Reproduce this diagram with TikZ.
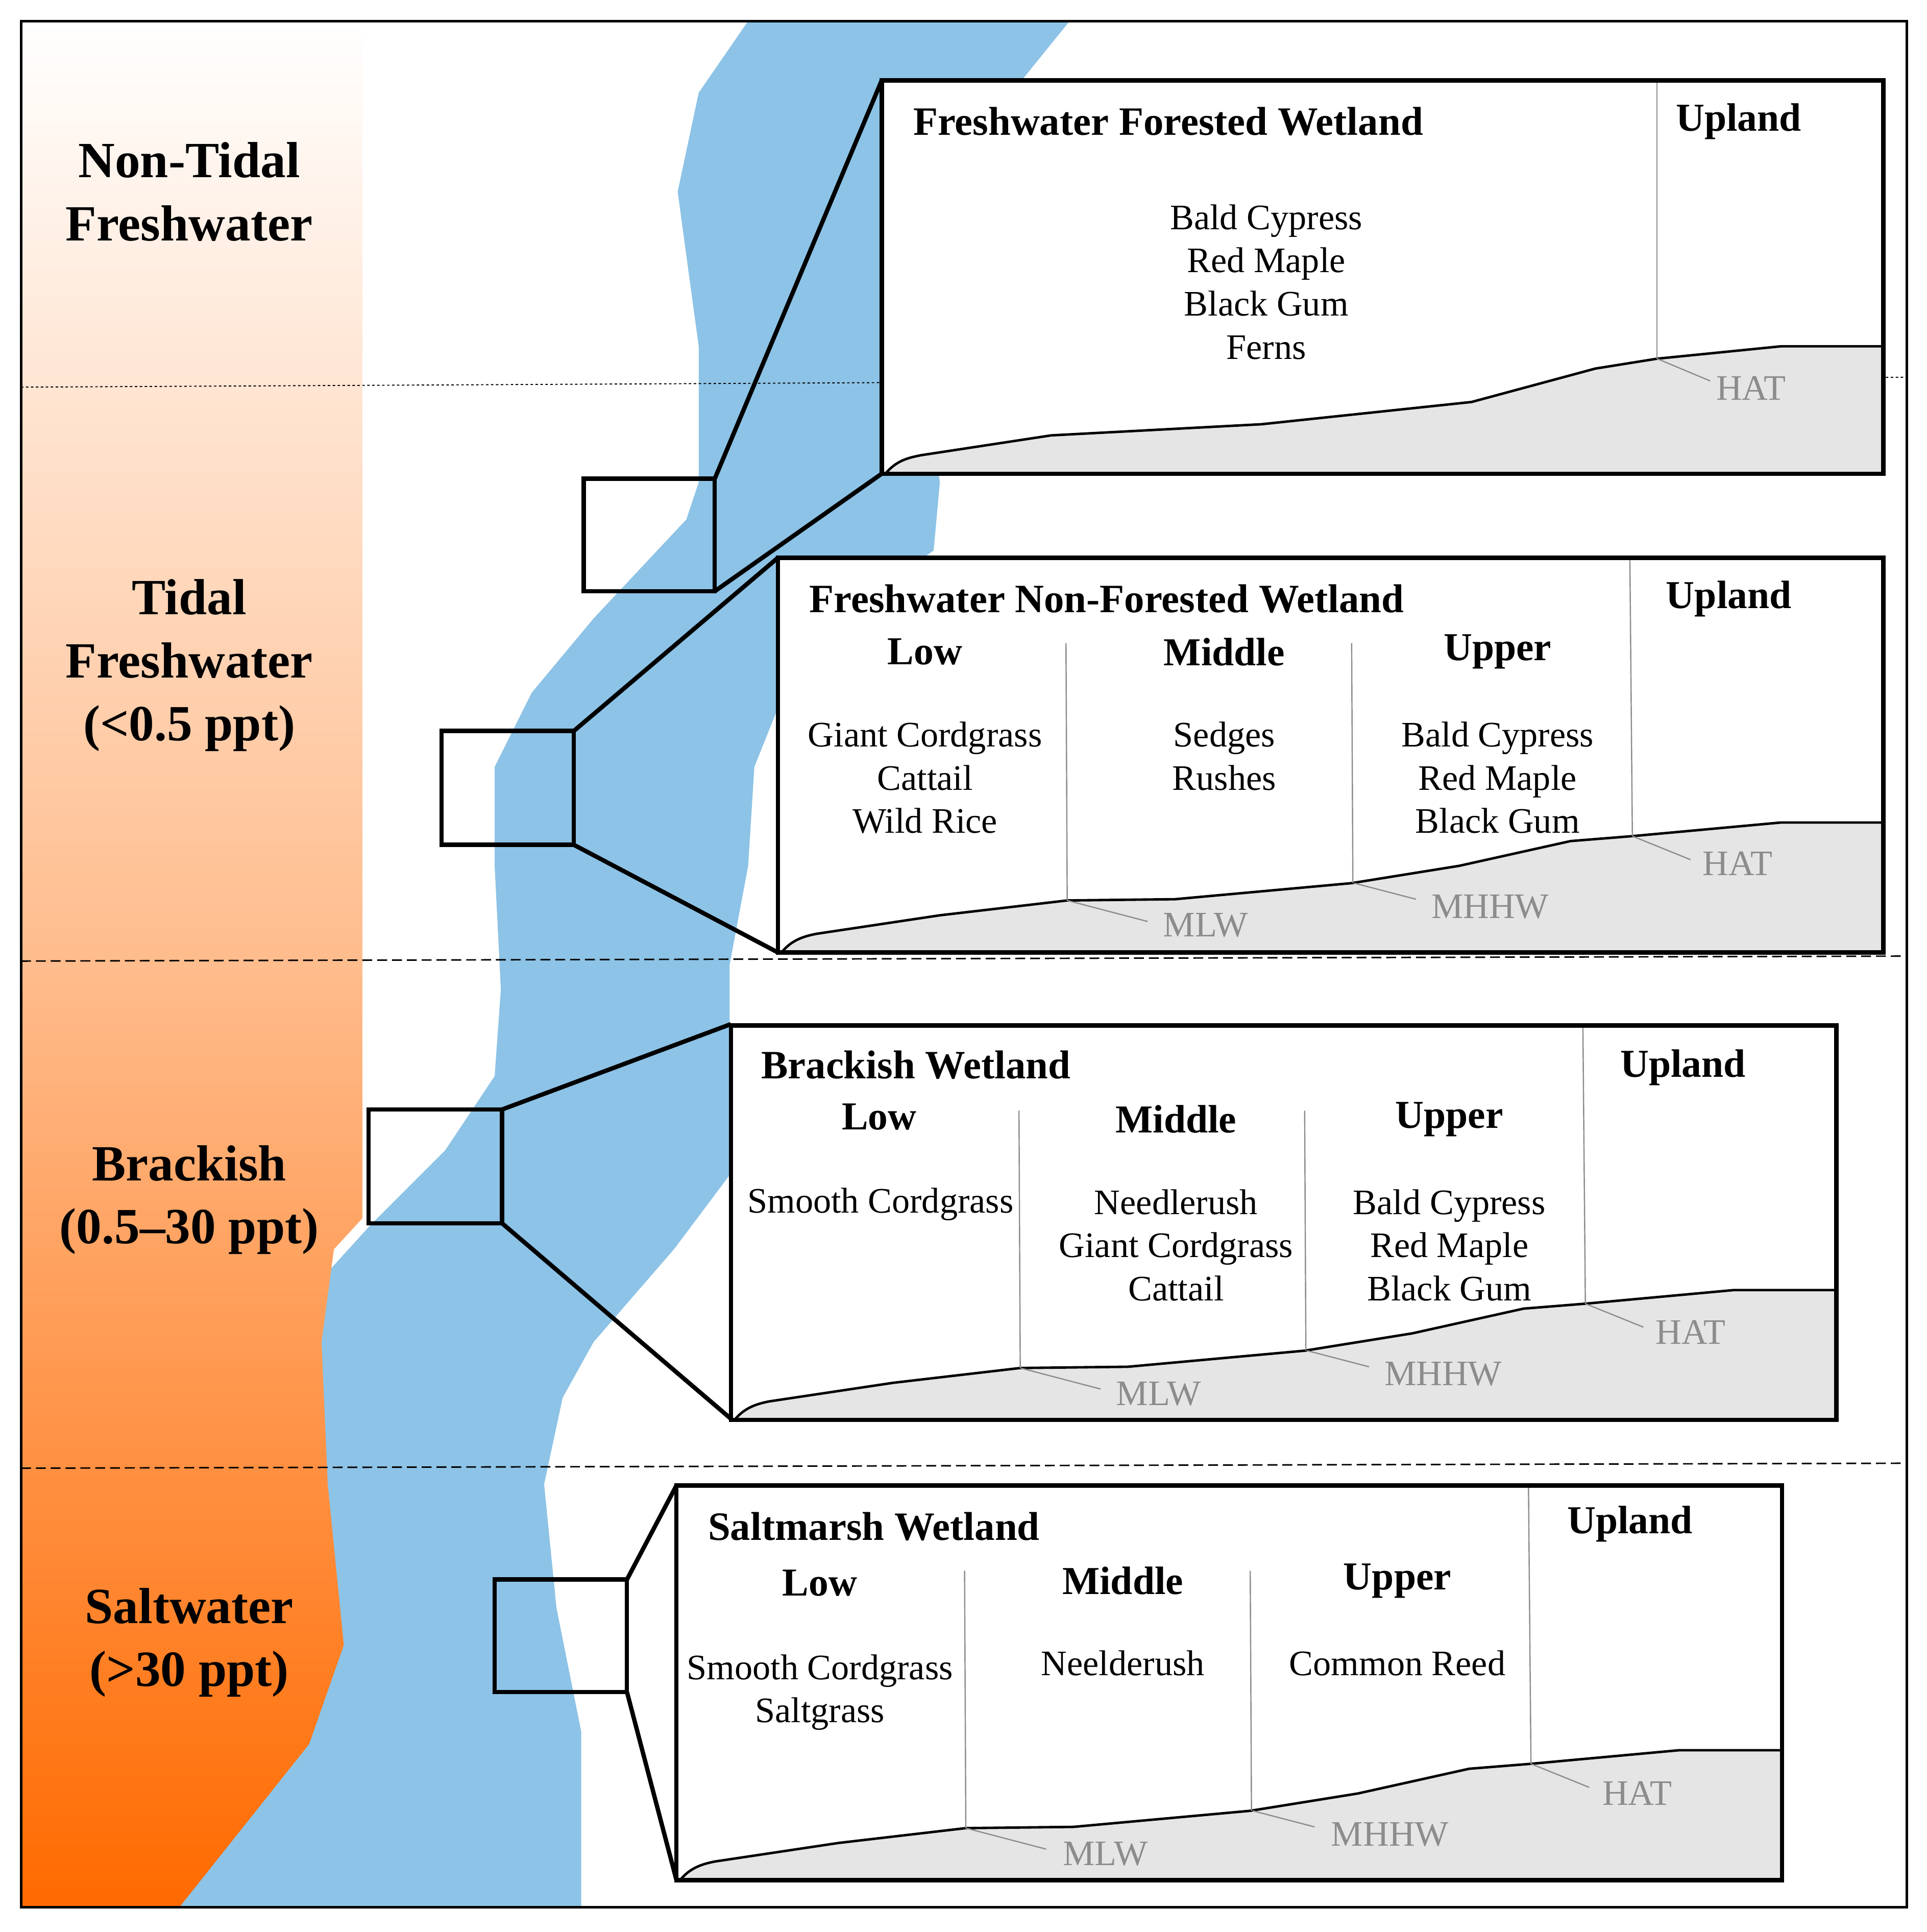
\documentclass[tikz,border=0pt]{standalone}
\usepackage{fontspec}
\setmainfont{Liberation Serif}
\begin{document}
\begin{tikzpicture}[x=1pt,y=-1pt,
  big/.style={font=\fontsize{41}{51}\selectfont\bfseries,align=center},
  ttl/.style={font=\fontsize{32.5}{35}\selectfont\bfseries,anchor=west},
  hd/.style={font=\fontsize{32}{35}\selectfont\bfseries},
  sp/.style={font=\fontsize{29}{35}\selectfont,align=center},
  gl/.style={font=\fontsize{29}{30}\selectfont,text=black!45},
  frame/.style={draw=black,line width=3.5pt},
  zone/.style={draw=black!45,line width=1pt},
  ground/.style={fill=black!10,draw=black,line width=2pt}]
\definecolor{river}{HTML}{8DC3E6}
\definecolor{org}{HTML}{FF6A00}
\useasboundingbox (0,0) rectangle (1558,1562);
% river
\fill[river] (605,17)--(565,75)--(548,155)--(565,280)--(565,390)--(555,420)--(480,500)--(430,560)--(400,620)--(400,700)--(405,800)--(400,870)--(360,930)--(300,990)--(200,1100)--(100,1542)--(470,1542)--(470,1400)--(450,1300)--(440,1200)--(455,1130)--(480,1085)--(545,1010)--(590,950)--(590,780)--(605,700)--(610,620)--(650,520)--(755,445)--(760,390)--(745,280)--(750,190)--(810,85)--(865,17)--cycle;
% salinity strip
\shade[top color=white,bottom color=org,middle color=org!45] (17,17)--(293,17)--(293,985)--(270,1010)--(260,1085)--(265,1200)--(278,1330)--(250,1410)--(145,1542)--(17,1542)--cycle;
% dashed
\draw[dash pattern=on 2pt off 2pt,line width=0.8pt] (17,313)--(1542,305);
\draw[dash pattern=on 8pt off 4pt,line width=1.2pt] (17,777)--(1542,773);
\draw[dash pattern=on 8pt off 4pt,line width=1.2pt] (17,1187)--(1542,1183);
% left labels
\node[big] (nt) at (153,155) {Non-Tidal\\Freshwater};
\node[big] (tf) at (153,538) {Tidal\\Freshwater\\(<0.5 ppt)};
\node[big] (br) at (153,970) {Brackish\\(0.5–30 ppt)};
\node[big] (sw) at (153,1328) {Saltwater\\(>30 ppt)};
% corner coordinates
\coordinate (s1a) at (578,387); \coordinate (s1b) at (578,478);
\coordinate (b1a) at (713,65); \coordinate (b1b) at (713,383);
\coordinate (s2a) at (464,591); \coordinate (s2b) at (464,683);
\coordinate (b2a) at (629,451); \coordinate (b2b) at (629,770);
\coordinate (s3a) at (406,897); \coordinate (s3b) at (406,989);
\coordinate (b3a) at (591,828); \coordinate (b3b) at (591,1147);
\coordinate (s4a) at (507,1277); \coordinate (s4b) at (507,1368);
\coordinate (b4a) at (547,1201); \coordinate (b4b) at (547,1520);
% box 1
\fill[white] (713,65) rectangle (1523,383);
\path[ground] (716,383)..controls (725,372) and (735,370)..(745,368)--(850,352)--(1020,343)--(1190,325)--(1290,298)--(1340,290)--(1440,280)--(1523,280)--(1523,383)--cycle;
\draw[zone] (1340,65)--(1340,290);
\draw[zone] (1340,290)--(1383,308);
\node[gl] (hat1) at (1416,314) {HAT};
\node[ttl] (t1) at (735,98) {Freshwater Forested Wetland};
\node[hd] (u1) at (1406,98) {Upland};
\node[sp] (sp1) at (1024,228) {Bald Cypress\\Red Maple\\Black Gum\\Ferns};
\draw[frame] (713,65) rectangle (1523,383);
% generic box 2 ground
\newcommand{\wetbox}{%
\fill[white] (629,451) rectangle (1523,770);
\path[ground] (632,770)..controls (640,760) and (650,757)..(660,755)--(760,740)--(863,728)--(950,727)--(1093,714)--(1180,700)--(1270,680)--(1320,676)--(1440,665)--(1523,665)--(1523,770)--cycle;
\draw[zone] (862,520)--(863,728) (1093,520)--(1094,714) (1318,451)--(1320,676);
\draw[zone] (863,728)--(928,745) (1095,714)--(1145,727) (1320,676)--(1367,695);}
\wetbox
\node[gl] at (975,748) {MLW}; \node[gl] at (1205,733) {MHHW}; \node[gl] at (1405,698) {HAT};
\node[ttl] at (651,484) {Freshwater Non-Forested Wetland};
\node[hd] at (1398,484) {Upland};
\node[hd] at (748,527) {Low}; \node[hd] at (990,527) {Middle}; \node[hd] at (1211,527) {Upper};
\node[sp,anchor=north] at (748,580) {Giant Cordgrass\\Cattail\\Wild Rice};
\node[sp,anchor=north] at (990,580) {Sedges\\Rushes};
\node[sp,anchor=north] at (1211,580) {Bald Cypress\\Red Maple\\Black Gum};
\draw[frame] (629,451) rectangle (1523,770);
% box 3
\begin{scope}[shift={(-38,378)}]\wetbox\draw[frame] (629,451) rectangle (1523,770);\end{scope}
\node[gl] at (937,1127) {MLW}; \node[gl] at (1167,1111) {MHHW}; \node[gl] at (1367,1077) {HAT};
\node[ttl] at (612,861) {Brackish Wetland};
\node[hd] at (1361,863) {Upland};
\node[hd] at (711,903) {Low}; \node[hd] at (951,905) {Middle}; \node[hd] at (1172,905) {Upper};
\node[sp,anchor=north] at (712,957) {Smooth Cordgrass};
\node[sp,anchor=north] at (951,958) {Needlerush\\Giant Cordgrass\\Cattail};
\node[sp,anchor=north] at (1172,958) {Bald Cypress\\Red Maple\\Black Gum};
% box 4
\begin{scope}[shift={(-82,750)}]\wetbox\draw[frame] (629,451) rectangle (1523,770);\end{scope}
\node[gl] at (894,1499) {MLW}; \node[gl] at (1124,1483) {MHHW}; \node[gl] at (1324,1450) {HAT};
\node[ttl] at (569,1234) {Saltmarsh Wetland};
\node[hd] at (1318,1232) {Upland};
\node[hd] at (663,1280) {Low}; \node[hd] at (908,1278) {Middle}; \node[hd] at (1130,1278) {Upper};
\node[sp,anchor=north] at (663,1334) {Smooth Cordgrass\\Saltgrass};
\node[sp,anchor=north] at (908,1331) {Neelderush};
\node[sp,anchor=north] at (1130,1331) {Common Reed};
% small boxes and connectors
\draw[frame] (472,387) rectangle (s1b);
\draw[frame] (357,591) rectangle (s2b);
\draw[frame] (298,897) rectangle (s3b);
\draw[frame] (400,1277) rectangle (s4b);
\draw[frame] (s1a)--(b1a) (s1b)--(b1b);
\draw[frame] (s2a)--(b2a) (s2b)--(b2b);
\draw[frame] (s3a)--(b3a) (s3b)--(b3b);
\draw[frame] (s4a)--(b4a) (s4b)--(b4b);
% outer frame
\draw[line width=2pt] (17,17) rectangle (1542,1542);
\end{tikzpicture}
\end{document}
